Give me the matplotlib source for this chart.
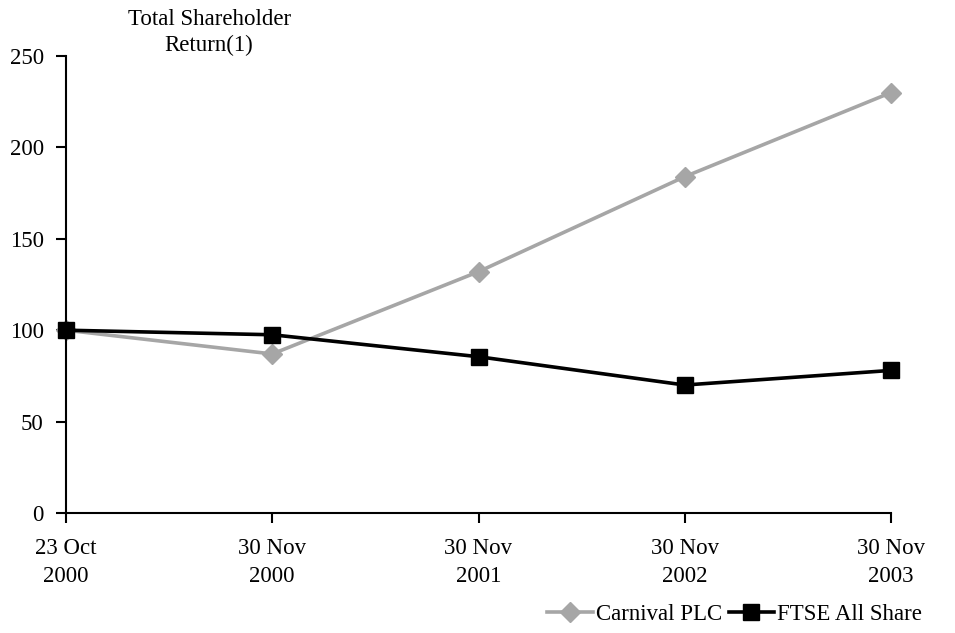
import matplotlib.pyplot as plt

dates = ['23 Oct\n2000', '30 Nov\n2000', '30 Nov\n2001', '30 Nov\n2002', '30 Nov\n2003']
carnival = [100, 87, 132, 184, 230]
ftse = [100, 97.5, 85.5, 70, 78]

plt.rcParams['font.family'] = ['Liberation Serif', 'DejaVu Serif']
plt.rcParams['font.size'] = 16.5

fig = plt.figure(figsize=(9.55, 6.33), dpi=100)
ax = fig.add_axes([0.0691, 0.1896, 0.8639, 0.7219])

x = range(len(dates))
ax.plot(x, carnival, color='#a6a6a6', lw=2.6, marker='D', ms=10, label='Carnival PLC', clip_on=False)
ax.plot(x, ftse, color='black', lw=2.6, marker='s', ms=12, label='FTSE All Share', clip_on=False)

ax.set_xlim(0, 4)
ax.set_ylim(0, 250)
ax.set_yticks([0, 50, 100, 150, 200, 250])
ax.set_xticks(list(x))
ax.set_xticklabels(dates, linespacing=1.45)
for s in ['top', 'right']:
    ax.spines[s].set_visible(False)
for s in ['left', 'bottom']:
    ax.spines[s].set_linewidth(1.5)
ax.tick_params(direction='out', length=7, width=1.5, labelsize=16.5)
ax.tick_params(axis='x', pad=11)
ax.tick_params(axis='y', pad=9)

fig.text(0.219, 0.985, 'Total Shareholder\nReturn(1)', ha='center', va='top', fontsize=16.5,
         linespacing=1.25)

ax.legend(loc='upper right', bbox_to_anchor=(1.062, -0.155), ncol=2, frameon=False,
          handlelength=2.0, handletextpad=0.1, columnspacing=0.3, fontsize=16.5)

fig.savefig('out.png', dpi=100)
